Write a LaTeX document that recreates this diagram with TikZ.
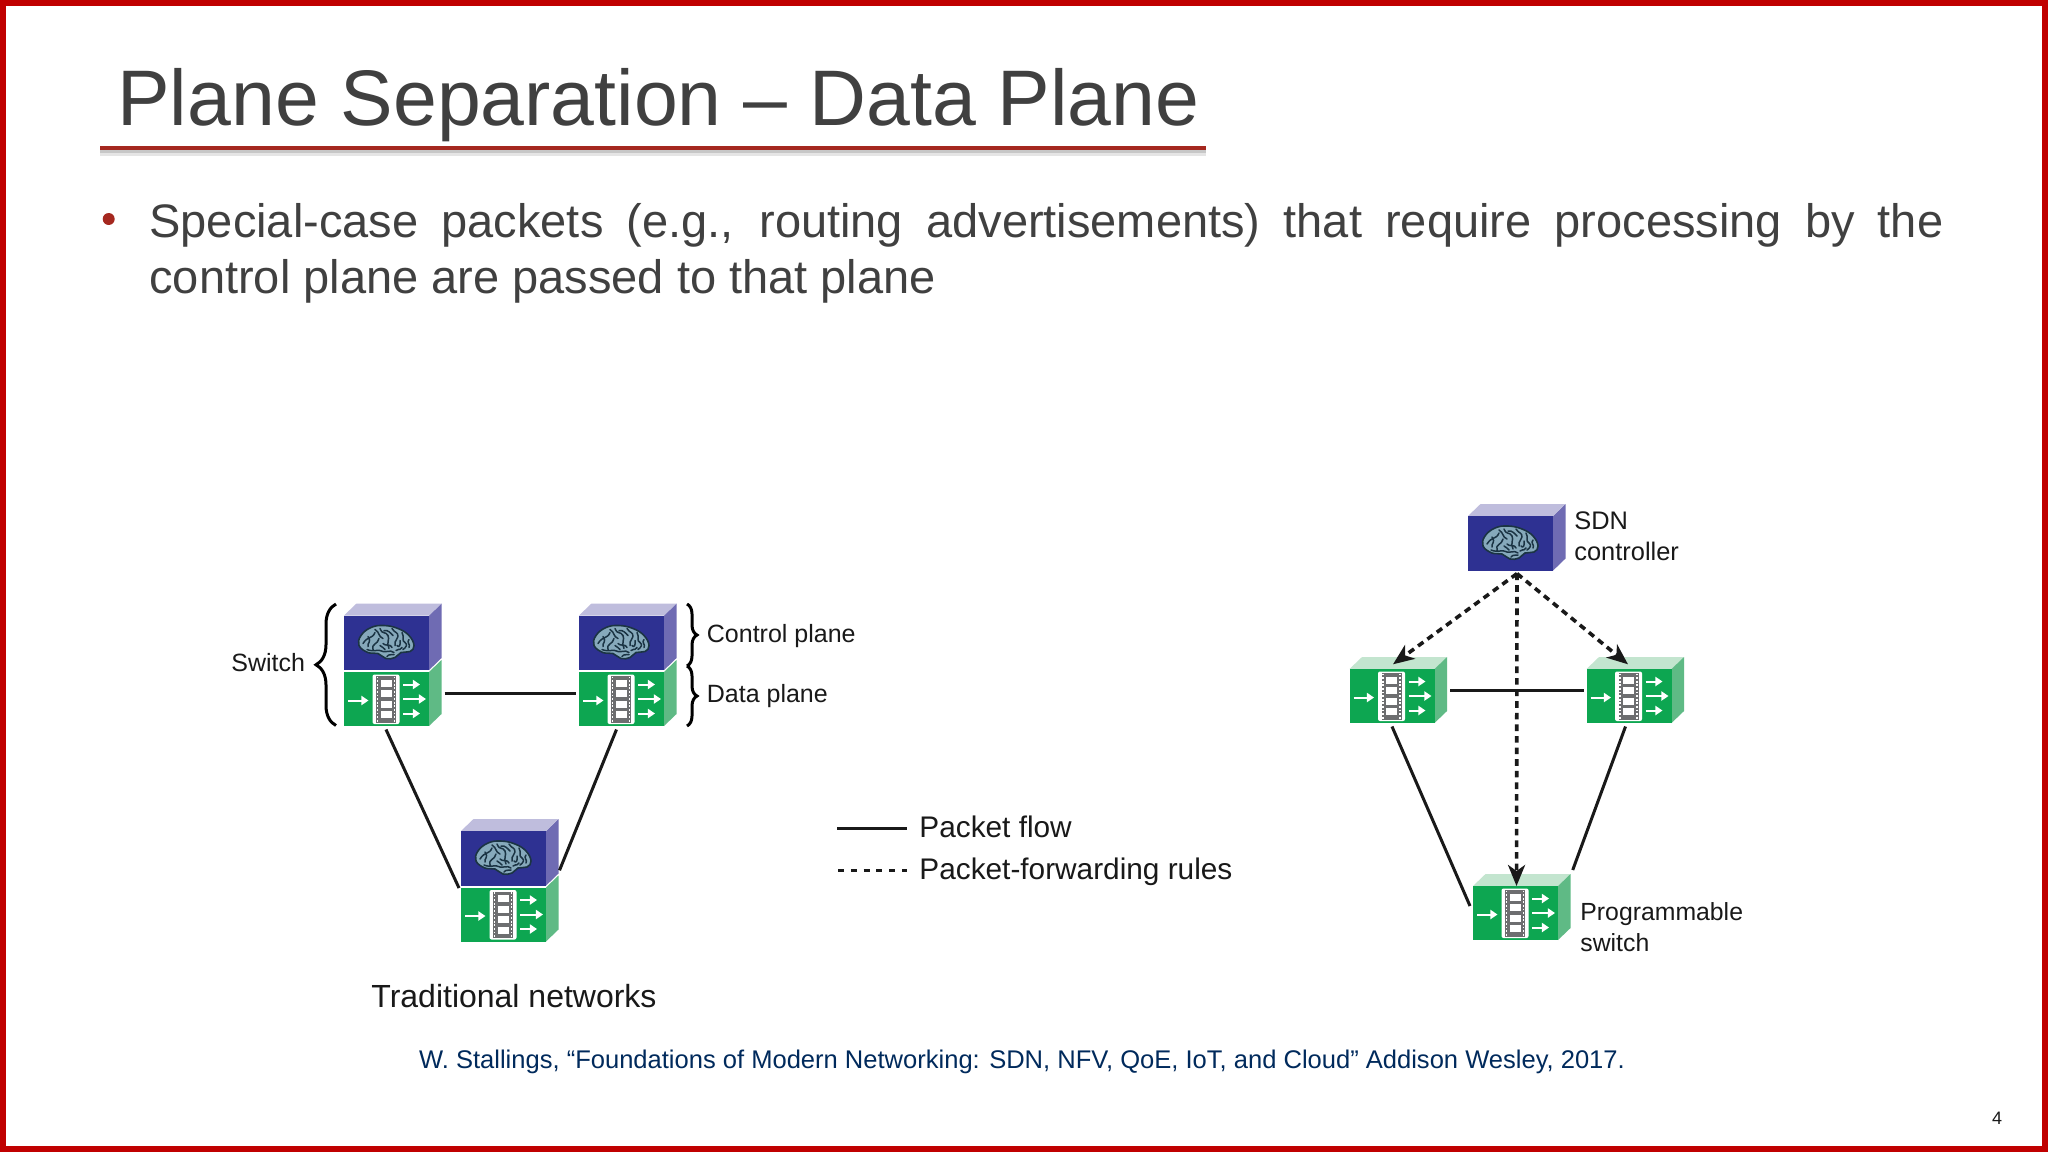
\documentclass[tikz,border=0pt]{standalone}
\usepackage{fontspec}
\setmainfont{Liberation Sans}
\usetikzlibrary{arrows.meta,decorations.pathreplacing,calc}
\definecolor{slidered}{HTML}{C00000}
\definecolor{rulered}{HTML}{A5281F}
\definecolor{inkgrey}{HTML}{404040}
\definecolor{citeblue}{HTML}{002A5C}
\definecolor{gfront}{HTML}{0DA651}
\definecolor{gside}{HTML}{5FBA85}
\definecolor{gtop}{HTML}{C3E5CF}
\definecolor{bfront}{HTML}{2E3192}
\definecolor{bside}{HTML}{6F6BB3}
\definecolor{btop}{HTML}{BFBDDD}
\definecolor{brainD}{HTML}{1B3444}
\definecolor{brainL}{HTML}{86A9BB}
\definecolor{filmgrey}{HTML}{6D6E70}
\tikzset{
  gbox/.style={rectangle,draw=none,fill=gfront,inner sep=0pt,outer sep=0pt,minimum width=42.5pt,minimum height=27pt,anchor=north west},
  bbox/.style={rectangle,draw=none,fill=bfront,inner sep=0pt,outer sep=0pt,minimum width=42.5pt,minimum height=27.3pt,anchor=north west},
  wire/.style={draw=black!90,line width=1.5pt},
  ctrl/.style={draw=black!90,line width=1.8pt,dash pattern=on 3.3pt off 2.5pt},
  legdash/.style={draw=black!90,line width=1.3pt,dash pattern=on 3pt off 3.4pt},
  ctrlarrow/.style={ctrl,-{Stealth[length=10.5pt,width=8.5pt,inset=3pt]}},
  wa/.style={draw=white,line width=1pt,-{Triangle[length=3.6pt,width=4.6pt]}},
  lab/.style={font=\fontsize{12.5pt}{15.5pt}\selectfont,anchor=west,inner sep=0pt,text=black!90,align=left},
  brace/.style={draw=black,line width=1.5pt,decorate},
}
\newcommand{\brainat}[2]{%
  \begin{scope}[shift={(#1,#2)}]
    \filldraw[fill=brainL,draw=brainD,line width=.8pt] plot[smooth cycle,tension=.7] coordinates {(-27,3)(-25,-7)(-15,-15)(-2,-17)(12,-14)(23,-7)(28,3)(24,9)(15,10)(9,15)(0,16)(-8,11)(-18,10)};
    \draw[brainD,line width=.75pt,line cap=round,line join=round]
      (-23,1)..controls(-18,-7)and(-14,-3)..(-11,-10) (-13,7)..controls(-15,1)and(-8,2)..(-7,-4)
      (-6,-14)..controls(-3,-7)and(-1,-12)..(2,-7)..controls(4,-3)and(0,0)..(3,6)
      (6,-14)..controls(9,-9)and(12,-11)..(12,-6)..controls(12,-2)and(8,-3)..(9,3)
      (16,-10)..controls(19,-5)and(15,-2)..(19,0)..controls(22,2)and(20,5)..(17,7)
      (-19,7)..controls(-12,10)and(-8,6)..(-3,9)..controls(0,10)and(4,7)..(8,10)
      (-3,1)..controls(-1,4)and(5,1)..(6,5) (1,14)..controls(3,11)and(6,13)..(8,12)
      (11,3)..controls(13,6)and(15,2)..(14,-2) (-18,-6)..controls(-14,0)and(-19,0)..(-18,4)
      (-11,-13)..controls(-6,-10)and(-8,-6)..(-3,-4) (-6,3)..controls(-4,6)and(-2,4)..(-1,7)
      (23,-3)..controls(20,0)and(25,2)..(23,5) (-2,-12)..controls(2,-13)and(5,-9)..(7,-7)
      (16,5)..controls(13,9)and(12,5)..(10,8);
  \end{scope}}
\newcommand{\swfront}[3]{% name x y
  \fill[gside] (#2+85,#3) -- (#2+97.5,#3-12) -- (#2+97.5,#3+42) -- (#2+85,#3+54) -- cycle;
  \node[gbox] (#1) at (#2,#3) {};
  \begin{scope}[shift={(#2,#3)}]
    \fill[white,rounded corners=1pt] (28.5,2.5) rectangle (55.5,52);
    \fill[filmgrey] (32,4) rectangle (52,50.5);
    \draw[white,line width=.6pt,dash pattern=on .9pt off .9pt] (33.5,4.5) -- (33.5,50) (50.5,4.5) -- (50.5,50);
    \foreach \fy in {7.5,18,28.7,39.3} \fill[white] (36.5,\fy) rectangle (47.5,\fy+7);
    \draw[wa] (4,28.5) -- (24.5,28.5);
    \draw[wa] (59,12.5) -- (76,12.5);
    \draw[wa] (59,27) -- (82,27);
    \draw[wa] (59,41.5) -- (76,41.5);
  \end{scope}}
\newcommand{\swmod}[3]{% name x y, free-standing with a top face
  \fill[gtop] (#2,#3) -- (#2+12.5,#3-12) -- (#2+97.5,#3-12) -- (#2+85,#3) -- cycle;
  \swfront{#1}{#2}{#3}}
\newcommand{\ctlmod}[3]{% name x y(top of blue)
  \fill[bside] (#2+85,#3) -- (#2+97.5,#3-12) -- (#2+97.5,#3+42.5) -- (#2+85,#3+54.6) -- cycle;
  \fill[btop] (#2,#3) -- (#2+12.5,#3-12) -- (#2+97.5,#3-12) -- (#2+85,#3) -- cycle;
  \node[bbox] (#1) at (#2,#3) {};
  \brainat{#2+42}{#3+27}}
\begin{document}
\begin{tikzpicture}[x=0.5pt,y=-0.5pt]
\useasboundingbox (0,0) rectangle (2048,1152);
\fill[white] (0,0) rectangle (2048,1152);
\draw[slidered,line width=3pt] (3,3) rectangle (2045,1149);
% title
\node[anchor=base west,inner sep=0pt,text=inkgrey,font=\fontsize{39.4pt}{48pt}\selectfont] (title) at (117,125) {Plane Separation – Data Plane};
\coordinate (ruleA) at (100,147.5);
\coordinate (ruleB) at (1206,147.5);
\draw[black!10,line width=4pt] ([yshift=-2.2pt]ruleA) -- ([yshift=-2.2pt]ruleB);
\draw[black!22,line width=2pt] ([yshift=-1.6pt]ruleA) -- ([yshift=-1.6pt]ruleB);
\draw[rulered,line width=2pt] (ruleA) -- (ruleB);
% bullet
\fill[rulered] (108.7,219) circle (3pt);
\node[anchor=north west,inner sep=0pt,text=inkgrey,text width=897pt,align=justify,font=\fontsize{23.5pt}{28pt}\selectfont] (body) at (149,203) {Special-case packets (e.g., routing advertisements) that require processing by the\linebreak control plane are passed to that plane};
% traditional network
\ctlmod{t1b}{344}{615.5}\swfront{t1g}{344}{672}
\ctlmod{t2b}{579}{615.5}\swfront{t2g}{579}{672}
\ctlmod{t3b}{461}{831}\swfront{t3g}{461}{887.5}
\draw[wire] ([shift={(-0.5,3.5)}]t1g.south) -- ([shift={(-2,0.5)}]t3g.north west);
\draw[wire] ([shift={(-5,3.5)}]t2g.south) -- ([shift={(13.5,12)}]t3b.east);
\draw[wire] ([shift={(15.5,-5.5)}]t1g.east) -- ([shift={(-3,-5.5)}]t2g.west);
\draw[brace,decoration={brace,amplitude=10pt}] (336,725.5) -- (336,604);
\draw[brace,decoration={brace,amplitude=5pt}] (687,604) -- (687,666);
\draw[brace,decoration={brace,amplitude=5pt}] (687,666) -- (687,726);
\node[lab] (switchlab) at (231,663) {Switch};
\node[lab] (cplab) at (706.5,636) {Control plane};
\node[lab] (dplab) at (706.5,696.5) {Data plane};
\node[anchor=base west,inner sep=0pt,text=black!90,font=\fontsize{16pt}{19pt}\selectfont] (trad) at (371,1007) {Traditional networks};
% legend
\coordinate (legA) at (837,828.3);\coordinate (legB) at (907,828.3);
\coordinate (legC) at (838,870.7);\coordinate (legD) at (907,870.7);
\draw[wire] (legA) -- (legB);
\draw[legdash] (legC) -- (legD);
\node[anchor=base west,inner sep=0pt,text=black!90,font=\fontsize{14.9pt}{18pt}\selectfont] (pf) at (919,837.3) {Packet flow};
\node[anchor=base west,inner sep=0pt,text=black!90,font=\fontsize{14.9pt}{18pt}\selectfont] (pfr) at (919,879.3) {Packet-forwarding rules};
% SDN
\ctlmod{ctl}{1468}{516}
\swmod{s1}{1349.5}{669}
\swmod{s2}{1586.5}{669}
\swmod{s3}{1473}{886}
\draw[ctrlarrow] ([shift={(6.5,3)}]ctl.south) -- ([shift={(1,-4.7)}]s1.north);
\draw[ctrlarrow] ([shift={(6.5,3)}]ctl.south) -- ([shift={(-1,-4.7)}]s2.north);
\draw[ctrlarrow] ([shift={(6.5,3)}]ctl.south) -- ([shift={(1,0)}]s3.north);
\draw[wire] ([shift={(15.8,-6)}]s1.east) -- ([shift={(-2.5,-6)}]s2.west);
\draw[wire] ([shift={(0,3.5)}]s1.south) -- ([shift={(-3,-7)}]s3.west);
\draw[wire] ([shift={(-3.5,3.5)}]s2.south) -- ([shift={(14.7,-43)}]s3.east);
\node[lab,font=\fontsize{12.7pt}{15.5pt}\selectfont] (sdnlab) at (1574,536) {SDN\\controller};
\node[lab,font=\fontsize{12.4pt}{15.5pt}\selectfont] (pslab) at (1580,927) {Programmable\\switch};
% citation
\node[anchor=base,inner sep=0pt,text=citeblue,font=\fontsize{12.77pt}{16pt}\selectfont] (cite) at (1022,1068) {W. Stallings, “Foundations of Modern Networking: SDN, NFV, QoE, IoT, and Cloud” Addison Wesley, 2017.};
\node[anchor=base,inner sep=0pt,text=black!90,font=\fontsize{9pt}{11pt}\selectfont] (pagenum) at (1997,1124) {4};
\end{tikzpicture}
\end{document}
